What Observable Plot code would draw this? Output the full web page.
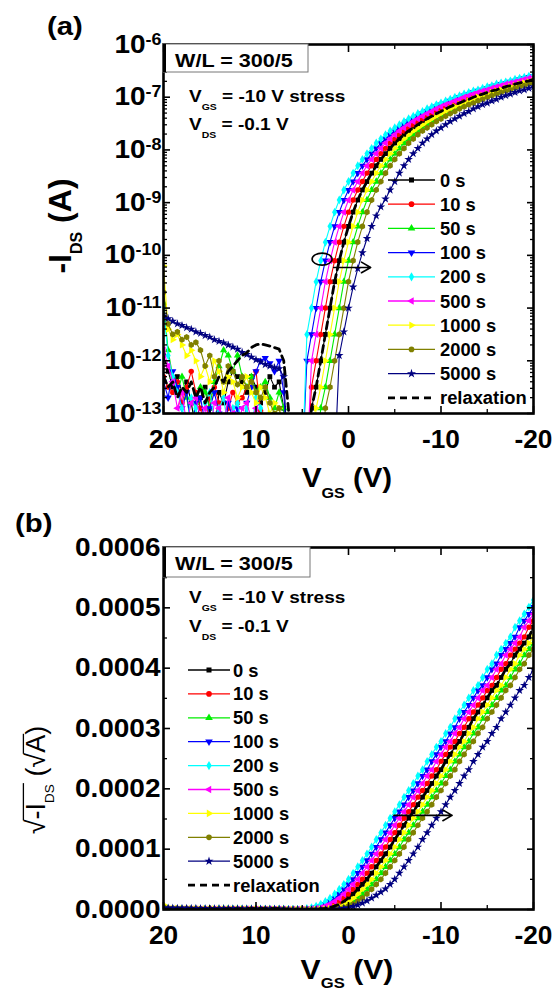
<!DOCTYPE html>
<html><head><meta charset="utf-8">
<script src="https://cdn.jsdelivr.net/npm/d3@7"></script>
<script src="https://cdn.jsdelivr.net/npm/@observablehq/plot@0.6"></script>
<style>
body{margin:0;background:#fff;}
#root{position:relative;width:554px;height:994px;overflow:hidden;background:#fff;}
#root svg{position:absolute;left:0;overflow:visible;}
</style></head><body><div id="root"></div>
<script>
// ---------------- data (log10 of -I_DS in A) ----------------
const VGS = [20,19.5,19,18.5,18,17.5,17,16.5,16,15.5,15,14.5,14,13.5,13,12.5,12,11.5,11,10.5,10,9.5,9,8.5,8,7.5,7,6.5,6,5.5,5,4.5,4,3.5,3,2.5,2,1.5,1,0.5,0,-0.5,-1,-1.5,-2,-2.5,-3,-3.5,-4,-4.5,-5,-5.5,-6,-6.5,-7,-7.5,-8,-8.5,-9,-9.5,-10,-10.5,-11,-11.5,-12,-12.5,-13,-13.5,-14,-14.5,-15,-15.5,-16,-16.5,-17,-17.5,-18,-18.5,-19,-19.5,-20];

const logI_0s = [-11.9,-12.2,-12.5,-12.3,-12.6,-12.4,-12.8,-13.3,-12.7,-12.5,-12.9,-13.4,-12.6,-12.8,-12.4,-12.2,-12.3,-12.4,-12.6,-12.3,-12.5,-12.8,-12.6,-12.3,-12.5,-12.4,-12.9,-14,
 -14,-14,-14,-14,
 -12.9,-12.5,-12.0,-11.5,-11.0,-10.5,-10.1,-9.75,-9.45,-9.18,-8.95,-8.76,-8.6,-8.44,-8.3,-8.18,-8.07,-7.97,-7.87,-7.79,-7.71,-7.64,-7.58,-7.52,-7.46,-7.41,-7.36,-7.31,-7.27,-7.22,-7.18,-7.14,-7.11,-7.07,-7.04,-7.0,-6.97,-6.94,-6.91,-6.88,-6.86,-6.83,-6.8,-6.78,-6.75,-6.73,-6.71,-6.69,-6.66];

const logI_10s = [-12.3,-12.5,-12.6,-12.4,-12.8,-12.5,-12.2,-12.6,-12.9,-13.3,-12.7,-12.5,-12.8,-13.4,-12.9,-12.6,-12.8,-12.7,-12.5,-12.4,-12.2,-12.95,-14,-14,-14,-14,-14,-14,
 -14,-14,-14,-14,
 -12.5,-12.0,-11.5,-11.0,-10.5,-10.1,-9.75,-9.45,-9.18,-8.95,-8.76,-8.6,-8.44,-8.3,-8.18,-8.07,-7.97,-7.87,-7.79,-7.71,-7.64,-7.58,-7.52,-7.46,-7.41,-7.36,-7.31,-7.27,-7.22,-7.18,-7.14,-7.11,-7.07,-7.04,-7.0,-6.97,-6.94,-6.91,-6.88,-6.86,-6.83,-6.8,-6.78,-6.75,-6.73,-6.71,-6.69,-6.66,-6.64];

const logI_50s = [-10.9,-11.8,-12.3,-12.6,-12.3,-12.7,-13.2,-12.8,-12.5,-12.6,-12.9,-12.4,-12.1,-11.8,-11.9,-12.2,-11.9,-12.3,-12.5,-12.3,-12.6,-12.5,-12.4,-12.7,-12.9,-12.6,-12.9,-14,
 -14,-14,-14,-14,-14,-14,
 -12.9,-12.5,-12.0,-11.5,-11.0,-10.5,-10.1,-9.75,-9.45,-9.18,-8.95,-8.76,-8.6,-8.44,-8.3,-8.18,-8.07,-7.97,-7.87,-7.79,-7.71,-7.64,-7.58,-7.52,-7.46,-7.41,-7.36,-7.31,-7.27,-7.22,-7.18,-7.14,-7.11,-7.07,-7.04,-7.0,-6.97,-6.94,-6.91,-6.88,-6.86,-6.83,-6.8,-6.78,-6.75,-6.73,-6.71];

const logI_100s = [-12.4,-12.7,-12.2,-12.5,-12.9,-12.6,-13.3,-12.8,-12.7,-13.2,-12.9,-12.6,-13.0,-13.5,-12.8,-13.1,-12.9,-13.4,-12.8,-12.5,-12.2,-12.0,-11.95,-12.05,-12.2,-12.0,-12.6,-14,
 -14,-14,-14,
 -12.0,-11.5,-11.0,-10.5,-10.1,-9.75,-9.45,-9.18,-8.95,-8.76,-8.6,-8.44,-8.3,-8.18,-8.07,-7.97,-7.87,-7.79,-7.71,-7.64,-7.58,-7.52,-7.46,-7.41,-7.36,-7.31,-7.27,-7.22,-7.18,-7.14,-7.11,-7.07,-7.04,-7.0,-6.97,-6.94,-6.91,-6.88,-6.86,-6.83,-6.8,-6.78,-6.75,-6.73,-6.71,-6.69,-6.66,-6.64,-6.62,-6.6];

const logI_200s = [-11.0,-11.9,-12.3,-12.6,-12.9,-13.2,-12.7,-12.9,-13.4,-12.8,-12.6,-13.1,-12.9,-12.7,-13.3,-12.9,-12.8,-13.2,-12.9,-13.3,-12.7,-12.9,-13.2,-13.4,-14,-14,-14,-14,
 -14,-14,-14,
 -11.5,-11.0,-10.5,-10.1,-9.75,-9.45,-9.18,-8.95,-8.76,-8.6,-8.44,-8.3,-8.18,-8.07,-7.97,-7.87,-7.79,-7.71,-7.64,-7.58,-7.52,-7.46,-7.41,-7.36,-7.31,-7.27,-7.22,-7.18,-7.14,-7.11,-7.07,-7.04,-7.0,-6.97,-6.94,-6.91,-6.88,-6.86,-6.83,-6.8,-6.78,-6.75,-6.73,-6.71,-6.69,-6.66,-6.64,-6.62,-6.6,-6.58];

const logI_500s = [-11.8,-12.1,-12.4,-12.9,-12.6,-13.2,-12.8,-12.7,-13.1,-12.9,-13.4,-12.8,-12.9,-13.2,-12.7,-13.0,-13.3,-12.9,-12.8,-13.1,-12.9,-13.3,-14,-14,-14,-14,-14,-14,
 -14,-14,-14,-14,
 -12.0,-11.5,-11.0,-10.5,-10.1,-9.75,-9.45,-9.18,-8.95,-8.76,-8.6,-8.44,-8.3,-8.18,-8.07,-7.97,-7.87,-7.79,-7.71,-7.64,-7.58,-7.52,-7.46,-7.41,-7.36,-7.31,-7.27,-7.22,-7.18,-7.14,-7.11,-7.07,-7.04,-7.0,-6.97,-6.94,-6.91,-6.88,-6.86,-6.83,-6.8,-6.78,-6.75,-6.73,-6.71,-6.69,-6.66,-6.64,-6.62];

const logI_1000s = [-10.2,-11.4,-11.6,-11.5,-11.7,-11.9,-11.8,-12.0,-12.3,-12.1,-12.4,-12.0,-12.2,-12.6,-12.3,-12.4,-12.7,-12.5,-12.3,-12.6,-12.8,-12.5,-12.7,-13.0,-12.8,-12.9,-13.3,-14,
 -14,-14,-14,-14,-14,
 -12.9,-12.5,-12.0,-11.5,-11.0,-10.5,-10.1,-9.75,-9.45,-9.18,-8.95,-8.76,-8.6,-8.44,-8.3,-8.18,-8.07,-7.97,-7.87,-7.79,-7.71,-7.64,-7.58,-7.52,-7.46,-7.41,-7.36,-7.31,-7.27,-7.22,-7.18,-7.14,-7.11,-7.07,-7.04,-7.0,-6.97,-6.94,-6.91,-6.88,-6.86,-6.83,-6.8,-6.78,-6.75,-6.73,-6.71,-6.69];

const logI_2000s = [-10.7,-11.3,-11.5,-11.45,-11.6,-11.55,-11.7,-11.65,-11.8,-12.1,-11.9,-12.3,-12.0,-12.4,-12.1,-12.2,-12.45,-12.3,-12.5,-12.4,-12.6,-12.7,-12.5,-12.8,-13.0,-12.9,-13.3,-14,
 -14,-14,-14,-14,-14,-14,-14,
 -12.9,-12.5,-12.0,-11.5,-11.0,-10.5,-10.1,-9.75,-9.45,-9.18,-8.95,-8.76,-8.6,-8.44,-8.3,-8.18,-8.07,-7.97,-7.87,-7.79,-7.71,-7.64,-7.58,-7.52,-7.46,-7.41,-7.36,-7.31,-7.27,-7.22,-7.18,-7.14,-7.11,-7.07,-7.04,-7.0,-6.97,-6.94,-6.91,-6.88,-6.86,-6.83,-6.8,-6.78,-6.75,-6.73];

const logI_5000s = [-11.15,-11.2,-11.25,-11.3,-11.33,-11.37,-11.4,-11.45,-11.48,-11.52,-11.55,-11.6,-11.63,-11.66,-11.7,-11.74,-11.78,-11.84,-11.88,-11.93,-11.98,-12.02,-12.07,-12.1,-12.13,-12.15,-12.3,-14,
 -14,-14,-14,-14,-14,-14,-14,-14,-14,-14,
 -11.9,-11.45,-11.0,-10.6,-10.25,-9.95,-9.68,-9.45,-9.25,-9.08,-8.93,
 -8.76,-8.6,-8.44,-8.3,-8.18,-8.07,-7.97,-7.87,-7.79,-7.71,-7.64,-7.58,-7.52,-7.46,-7.41,-7.36,-7.31,-7.27,-7.22,-7.18,-7.14,-7.11,-7.07,-7.04,-7.0,-6.97,-6.94,-6.91,-6.88,-6.86,-6.83,-6.8];

const logI_relax = [-12.3,-12.5,-12.4,-12.7,-12.5,-12.6,-12.4,-12.7,-12.5,-12.8,-12.6,-12.5,-12.3,-12.4,-12.2,-12.1,-12.0,-11.9,-11.85,-11.75,-11.7,-11.68,-11.7,-11.72,-11.75,-11.78,-12.0,-12.9,
 -14,-14,-14,-14,
 -12.9,-12.5,-12.0,-11.5,-11.0,-10.5,-10.1,-9.75,-9.45,-9.18,-8.95,-8.76,-8.6,-8.44,-8.3,-8.18,-8.07,-7.97,-7.87,-7.79,-7.71,-7.64,-7.58,-7.52,-7.46,-7.41,-7.36,-7.31,-7.27,-7.22,-7.18,-7.14,-7.11,-7.07,-7.04,-7.0,-6.97,-6.94,-6.91,-6.88,-6.86,-6.83,-6.8,-6.78,-6.75,-6.73,-6.71,-6.69,-6.66];

const seriesNames = ["0 s","10 s","50 s","100 s","200 s","500 s","1000 s","2000 s","5000 s","relaxation"];
const seriesData = [logI_0s,logI_10s,logI_50s,logI_100s,logI_200s,logI_500s,logI_1000s,logI_2000s,logI_5000s,logI_relax];

// annotation arrows (data coordinates)
const arrowA_V = [1.6, -2.4];
const arrowA_I = [5.9e-11, 5.9e-11];
const loopA = {V: 2.8, I: 8.3e-11};
const arrowB_V = [-4.9, -11.2];
const arrowB_S = [1.56e-4, 1.56e-4];

// tick values
const xMajor = [20,10,0,-10,-20];
const xMinor = [15,5,-5,-15];
const yDecades = [1e-13,1e-12,1e-11,1e-10,1e-9,1e-8,1e-7,1e-6];
const yLin = [0,0.0001,0.0002,0.0003,0.0004,0.0005,0.0006];
const yLinMinor = [0.00005,0.00015,0.00025,0.00035,0.00045,0.00055];

// ---------------- styles ----------------
const seriesColors = ["#000000","#ff0000","#00ee00","#0000ff","#00ffff","#ff00ff","#ffff00","#808000","#000080","#000000"];
const seriesSymbols = ["square","circle","triangle","triangle","diamond","triangle","triangle","hexagon","star",null];
const seriesRotate = [0,0,0,180,0,-90,90,0,0,0];
const FONT = "'Liberation Sans', Arial, Helvetica, sans-serif";
const NS = "http://www.w3.org/2000/svg";
const DOT_R = 2.7;

seriesData.forEach((a,k) => { if (a.length !== VGS.length) throw new Error(seriesNames[k] + " length " + a.length); });

const series = seriesNames.map((name,k) => ({
  name, color: seriesColors[k], symbol: seriesSymbols[k], rotate: seriesRotate[k], dashed: name === "relaxation",
  rows: VGS.map((v,i) => ({V: v, I: Math.pow(10, seriesData[k][i]), S: Math.sqrt(Math.pow(10, seriesData[k][i]))}))
}));

function seriesMarks(yField) {
  const m = [];
  series.forEach(s => {
    m.push(Plot.line(s.rows, {x: "V", y: yField, stroke: s.color, strokeWidth: s.dashed ? 2.8 : 1.1,
      strokeDasharray: s.dashed ? "7,5" : undefined, clip: true}));
    if (s.symbol) m.push(Plot.dot(s.rows, {x: "V", y: yField, symbol: s.symbol, r: DOT_R, fill: s.color,
      stroke: "none", rotate: s.rotate, clip: true}));
  });
  return m;
}

const minorLog = [];
for (let e = -13; e < -6; e++) for (let m = 2; m <= 9; m++) minorLog.push(m * Math.pow(10, e));

const blank = () => "";
function frameAxes(yMajor, yMinor, yFmt, yPad) {
  return [
    Plot.axisX({anchor: "bottom", ticks: xMajor, tickSize: -7, tickPadding: 24, tickFormat: d => String(d), label: null, strokeWidth: 1.6}),
    Plot.axisX({anchor: "top", ticks: xMajor, tickSize: -7, tickFormat: blank, label: null, strokeWidth: 1.6}),
    Plot.axisX({anchor: "bottom", ticks: xMinor, tickSize: -4, tickFormat: blank, label: null, strokeWidth: 1.3}),
    Plot.axisX({anchor: "top", ticks: xMinor, tickSize: -4, tickFormat: blank, label: null, strokeWidth: 1.3}),
    Plot.axisY({anchor: "left", ticks: yMajor, tickSize: -7, tickPadding: yPad, tickFormat: yFmt, label: null, strokeWidth: 1.6}),
    Plot.axisY({anchor: "right", ticks: yMajor, tickSize: -7, tickFormat: blank, label: null, strokeWidth: 1.6}),
    Plot.axisY({anchor: "left", ticks: yMinor, tickSize: -4, tickFormat: blank, label: null, strokeWidth: 1.3}),
    Plot.axisY({anchor: "right", ticks: yMinor, tickSize: -4, tickFormat: blank, label: null, strokeWidth: 1.3}),
    Plot.frame({stroke: "black", strokeWidth: 2.6})
  ];
}

const baseStyle = {fontFamily: FONT, fontSize: "25px", fontWeight: "bold", color: "black", background: "transparent", overflow: "visible"};

const loopMark = (index, scales) => {
  const el = document.createElementNS(NS, "ellipse");
  el.setAttribute("cx", scales.x(loopA.V)); el.setAttribute("cy", scales.y(loopA.I));
  el.setAttribute("rx", 10); el.setAttribute("ry", 6);
  el.setAttribute("fill", "none"); el.setAttribute("stroke", "black"); el.setAttribute("stroke-width", 1.6);
  return el;
};

const chartA = Plot.plot({
  width: 554, height: 495, marginLeft: 163, marginRight: 21, marginTop: 44, marginBottom: 82,
  style: baseStyle,
  x: {domain: [20, -20]},
  y: {type: "log", domain: [1e-13, 1e-6]},
  marks: [
    ...seriesMarks("I"),
    loopMark,
    Plot.arrow([0], {x1: () => arrowA_V[0], x2: () => arrowA_V[1], y1: () => arrowA_I[0], y2: () => arrowA_I[1], stroke: "black", strokeWidth: 1.6, headLength: 10}),
    ...frameAxes(yDecades, minorLog, d => "10^" + Math.round(Math.log10(d)), 9)
  ]
});

const chartB = Plot.plot({
  width: 554, height: 499, marginLeft: 163, marginRight: 21, marginTop: 52, marginBottom: 85,
  style: baseStyle,
  x: {domain: [20, -20]},
  y: {domain: [0, 0.0006]},
  marks: [
    ...seriesMarks("S"),
    Plot.arrow([0], {x1: () => arrowB_V[0], x2: () => arrowB_V[1], y1: () => arrowB_S[0], y2: () => arrowB_S[1], stroke: "black", strokeWidth: 1.6, headLength: 10}),
    ...frameAxes(yLin, yLinMinor, d => d.toFixed(4), 10)
  ]
});

const root = document.getElementById("root");
chartA.style.top = "0px"; chartB.style.top = "495px";
root.appendChild(chartA); root.appendChild(chartB);

// superscript tick labels on the log axis
chartA.querySelectorAll('g[aria-label="y-axis tick label"] text').forEach(t => {
  const s = t.textContent; if (!s.includes("^")) return;
  const [b, e] = s.split("^");
  t.textContent = "";
  const a1 = document.createElementNS(NS, "tspan"); a1.textContent = b; t.appendChild(a1);
  const a2 = document.createElementNS(NS, "tspan"); a2.textContent = e; a2.setAttribute("dy", "-0.5em"); a2.setAttribute("font-size", "16px"); t.appendChild(a2);
});
// the reference's lettering is slightly wide: stretch tick labels horizontally
[chartA, chartB].forEach(c => {
  c.querySelectorAll('g[aria-label="y-axis tick label"] text').forEach(t => {
    t.setAttribute("transform", (t.getAttribute("transform") || "") + " scale(1.12,1)");
  });
  c.querySelectorAll('g[aria-label="x-axis tick label"] text').forEach(t => {
    t.setAttribute("transform", (t.getAttribute("transform") || "") + " scale(1.05,1)");
  });
});

function rich(svg, x, y, parts, {size = 18, weight = "bold", anchor = "start", rotate = 0, sx = 1, subSize = 0.6, subDy = 0.35} = {}) {
  const g = d3.select(svg).append("g").attr("transform", `translate(${x},${y})${rotate ? ` rotate(${rotate})` : ""} scale(${sx},1)`);
  const t = g.append("text").attr("x", 0).attr("y", 0).attr("font-family", FONT)
    .attr("font-size", size).attr("font-weight", weight).attr("text-anchor", anchor).attr("fill", "black");
  let shifted = 0, idx = 0;
  const overs = [];
  parts.forEach(p => {
    const o = typeof p === "string" ? {t: p} : p;
    const sp = t.append("tspan").text(o.t);
    if (o.sub) { sp.attr("font-size", size * subSize).attr("dy", (subDy * size) + "px"); shifted = subDy * size; }
    else if (shifted) { sp.attr("dy", (-shifted) + "px"); shifted = 0; }
    if (o.over) {
      const last = overs[overs.length - 1];
      if (last && last[1] === idx - 1) last[1] = idx + o.t.length - 1; else overs.push([idx, idx + o.t.length - 1]);
    }
    idx += o.t.length;
  });
  const node = t.node();
  overs.forEach(([a, b]) => {
    const x0 = node.getStartPositionOfChar(a).x - 1;
    const x1 = node.getEndPositionOfChar(b).x + 1;
    g.append("line").attr("x1", x0).attr("x2", x1).attr("y1", -0.8 * size).attr("y2", -0.8 * size)
      .attr("stroke", "black").attr("stroke-width", 1.3);
  });
  return t;
}

const symMap = {square: d3.symbolSquare, circle: d3.symbolCircle, triangle: d3.symbolTriangle, diamond: d3.symbolDiamond, hexagon: d3.symbolCircle, star: d3.symbolStar};
function legend(svg, x0, x1, xt, y0, dy) {
  const g = d3.select(svg).append("g");
  series.forEach((s, k) => {
    const y = y0 + k * dy;
    g.append("line").attr("x1", x0).attr("x2", x1).attr("y1", y).attr("y2", y).attr("stroke", s.color)
      .attr("stroke-width", s.dashed ? 2.8 : 1.3).attr("stroke-dasharray", s.dashed ? "7,5" : null);
    if (s.symbol) g.append("path").attr("d", d3.symbol(symMap[s.symbol], Math.PI * DOT_R * DOT_R * 1.1)())
      .attr("transform", `translate(${(x0 + x1) / 2},${y}) rotate(${s.rotate})`).attr("fill", s.color);
    rich(svg, xt, y + 6.5, [s.name], {size: 18, sx: 1.02});
  });
}

function infoBox(svg, x0, x1, yTop, yBot, yl1, yl2, yl3) {
  d3.select(svg).append("rect").attr("x", x0).attr("y", yTop).attr("width", x1 - x0).attr("height", yBot - yTop)
    .attr("fill", "white").attr("stroke", "#777").attr("stroke-width", 1);
  d3.select(svg).append("rect").attr("x", x0).attr("y", yTop).attr("width", 3).attr("height", yBot - yTop).attr("fill", "black");
  rich(svg, 175, yl1, ["W/L = 300/5"], {size: 18, sx: 1.2});
  rich(svg, 189, yl2, ["V", {t: "GS", sub: true}, " = -10 V stress"], {size: 17, sx: 1.12, subSize: 0.55, subDy: 0.45});
  rich(svg, 189, yl3, ["V", {t: "DS", sub: true}, " = -0.1 V"], {size: 17, sx: 1.12, subSize: 0.55, subDy: 0.45});
}

// panel (a) decorations
infoBox(chartA, 163, 308, 44, 72, 67, 102, 130);
legend(chartA, 388, 435, 440, 180, 24.2);
rich(chartA, 47, 35, ["(a)"], {size: 26, sx: 1.13});
rich(chartA, 347, 487, ["V", {t: "GS", sub: true}, " (V)"], {size: 28, sx: 1.05, anchor: "middle", subSize: 0.55, subDy: 0.4});
rich(chartA, 71, 226, ["-I", {t: "DS", sub: true}, " (A)"], {size: 32, anchor: "middle", rotate: -90, subSize: 0.5, subDy: 0.35});

// panel (b) decorations (y relative to svg top at 495)
infoBox(chartB, 163, 310, 52, 82, 75, 108, 137);
legend(chartB, 188, 230, 233, 670 - 495, 23.9);
rich(chartB, 15, 532 - 495, ["(b)"], {size: 26, sx: 1.13});
rich(chartB, 347, 979 - 495, ["V", {t: "GS", sub: true}, " (V)"], {size: 27, sx: 1.12, anchor: "middle", subSize: 0.55, subDy: 0.35});
rich(chartB, 45, 780 - 495, ["√", {t: "-I", over: true}, {t: "DS", sub: true, over: true}, " (", "√", {t: "A", over: true}, ")"], {size: 27, weight: "normal", anchor: "middle", rotate: -90, subSize: 0.5, subDy: 0.35});
</script></body></html>
